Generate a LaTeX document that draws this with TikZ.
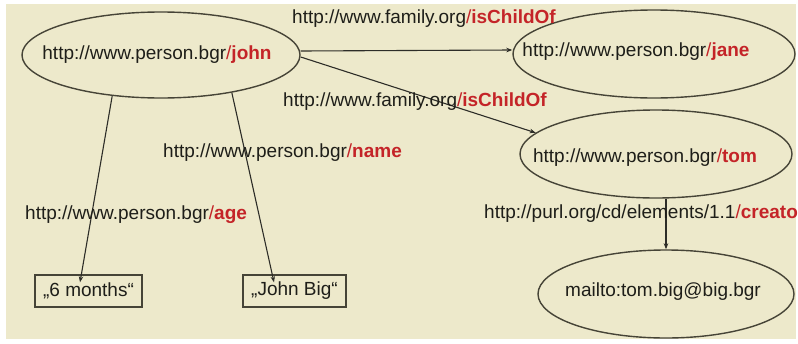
\documentclass[tikz,border=0pt]{standalone}
\usepackage{fontspec}
\setmainfont{Liberation Sans}
\usetikzlibrary{shapes.geometric,arrows.meta}
\definecolor{paper}{RGB}{237,233,203}
\definecolor{ink}{RGB}{30,30,25}
\definecolor{uriRed}{RGB}{196,36,40}
\definecolor{edge}{RGB}{70,68,55}
\definecolor{arrowink}{RGB}{45,45,40}
\newcommand{\red}[1]{\textcolor{uriRed}{/\textbf{#1}}}
\tikzset{
  resource/.style={ellipse,draw=edge,line width=1.4pt,inner sep=0pt},
  literal/.style={rectangle,draw=edge,line width=1.4pt,inner sep=0pt,
    minimum height=32pt,text=ink},
  txt/.style={inner sep=0pt,text=ink},
  prop/.style={inner sep=0pt,anchor=west,text=ink},
  rel/.style={draw=arrowink,line width=1.1pt,
    -{Stealth[length=6pt,width=4.5pt]}},
}
\begin{document}
\begin{tikzpicture}[x=1pt,y=-1pt,font=\fontsize{19}{22}\selectfont]
\useasboundingbox (0,0) rectangle (798,343);
\fill[paper] (6,4) rectangle (796,339);

% resources
\node[resource,minimum width=278pt,minimum height=86pt] (john) at (161,55) {};
\node[txt] (johnT) at (157,55) {http://www.person.bgr\red{john}};
\node[resource,minimum width=282pt,minimum height=88pt] (jane) at (654,54) {};
\node[txt] (janeT) at (636,52) {http://www.person.bgr\red{jane}};
\node[resource,minimum width=272pt,minimum height=88pt] (tom) at (656,154) {};
\node[txt] (tomT) at (645,158) {http://www.person.bgr\red{tom}};
\node[resource,minimum width=256pt,minimum height=88pt] (mail) at (666,294) {};
\node[txt] (mailT) at (663,292) {mailto:tom.big@big.bgr};

% literals
\node[literal,minimum width=107pt] (months) at (88.5,291) {„6 months“};
\node[literal,minimum width=103pt] (jbig) at (294.5,291) {„John Big“};

% properties
\draw[rel] ([yshift=4pt]john.east) -- ([yshift=4pt]jane.west);
\draw[rel] ([yshift=-2pt]john.east) -- (tom.170);
\draw[rel] (john.220) -- ([xshift=-8.5pt,yshift=-8pt]months.north);
\draw[rel] (john.332) -- ([xshift=-20.5pt,yshift=-8pt]jbig.north);
\draw[rel] (tom.south -| mail.north) -- (mail.north);

% property labels
\node[prop] (pChild1) at (292,19) {http://www.family.org\red{isChildOf}};
\node[prop] (pChild2) at (283,102) {http://www.family.org\red{isChildOf}};
\node[prop] (pName) at (163,153) {http://www.person.bgr\red{name}};
\node[prop] (pAge) at (25,215) {http://www.person.bgr\red{age}};
\node[prop] (pCreator) at (484,214) {http://purl.org/cd/elements/1.1\red{creator}};
\end{tikzpicture}
\end{document}
